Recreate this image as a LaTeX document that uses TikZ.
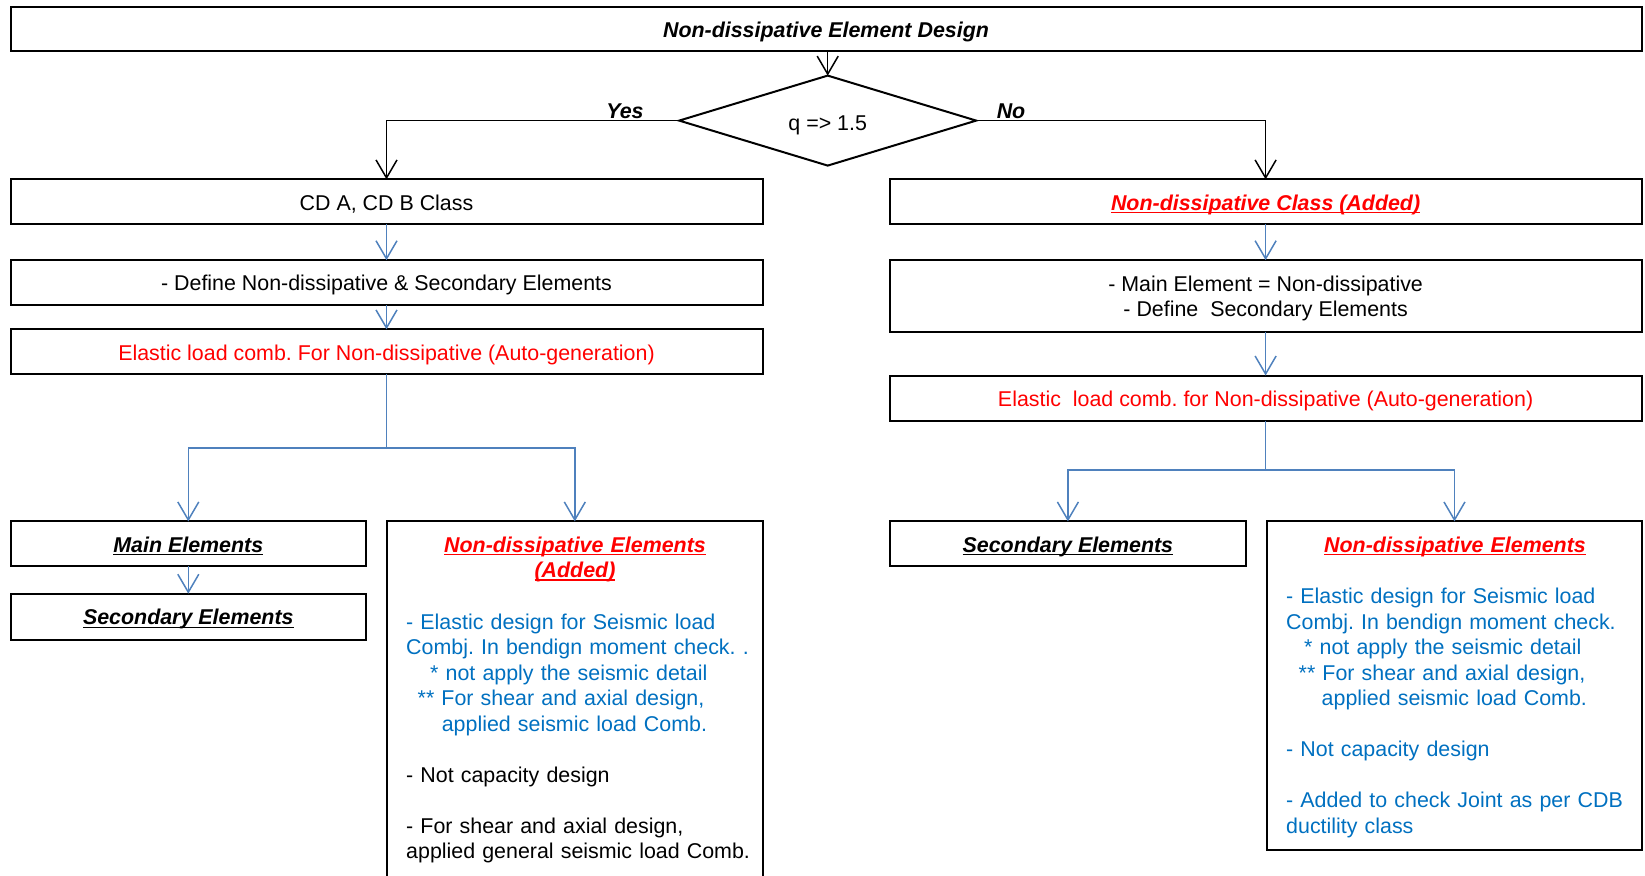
\documentclass[tikz,border=0pt]{standalone}
\usepackage{fontspec}
\setmainfont{Liberation Sans}
\usetikzlibrary{arrows.meta,shapes.geometric}
\definecolor{cred}{RGB}{255,0,0}
\definecolor{ctxtblue}{RGB}{0,112,192}
\definecolor{cline}{RGB}{79,129,189}
\newcommand\myul[1]{\leavevmode\setbox0\hbox{#1}\rlap{\rule[-3pt]{\wd0}{1.4pt}}\box0}
\frenchspacing
\begin{document}
\begin{tikzpicture}[x=1pt,y=-1pt,
  every node/.style={font=\fontsize{21.4}{25.5}\selectfont\frenchspacing},
  box/.style={draw, line width=2pt, rectangle, inner sep=0pt, outer sep=0pt, anchor=north west, align=center},
  one/.style={text height=19.4pt, text depth=3pt},
  bi/.style={font=\fontsize{21.4}{25.5}\selectfont\bfseries\itshape},
  karr/.style={draw=black, line width=1.5pt, -{Straight Barb[length=18pt,width=21pt]}},
  barr/.style={draw=cline, line width=1.5pt, -{Straight Barb[length=18pt,width=21pt]}},
  bline/.style={draw=cline, line width=1.5pt},
  body/.style={anchor=base west, text width=420pt, align=left, inner sep=0pt, text=ctxtblue},
  ttl/.style={bi, anchor=base, text width=360pt, align=center, inner sep=0pt}
  ]
\useasboundingbox (0,0) rectangle (1645,875);

% top
\node[box, one, bi, minimum width=1631pt, minimum height=44pt] (top) at (10.5,7.3) {Non-dissipative Element Design};
\node[diamond, draw, line width=2pt, inner sep=0pt, outer sep=0pt, aspect=3.3, minimum width=297pt, minimum height=90pt, text height=19.4pt, text depth=0pt] (dia) at (827.7,120.6) {q => 1.5};

% left column
\node[box, one, minimum width=752pt, minimum height=45pt] (cdL) at (10.5,179.4) {CD A, CD B Class};
\node[box, one, minimum width=752pt, minimum height=45pt] (defL) at (10.5,260.2) {- Define Non-dissipative \& Secondary Elements};
\node[box, one, minimum width=752pt, minimum height=45pt, text=cred] (elL) at (10.5,329.4) {Elastic load comb. For Non-dissipative (Auto-generation)};
\node[box, one, bi, minimum width=355.6pt, minimum height=45pt] (mainE) at (10.5,521.4) {\myul{Main Elements}};
\node[box, one, bi, minimum width=355.6pt, minimum height=46pt] (secL) at (10.5,593.7) {\myul{Secondary Elements}};
\node[box, minimum width=375.6pt, minimum height=400pt] (ndL) at (387,521.4) {};
\node[ttl, text=cred] (ndLt) at (575,552) {\myul{Non-dissipative Elements}\\\myul{(Added)}};
\node[body] (ndLb) at (406,629) {- Elastic design for Seismic load\\
Combj. In bendign moment check. .\\
\hspace*{24pt}* not apply the seismic detail\\
\hspace*{11.5pt}** For shear and axial design,\\
\hspace*{35.6pt}applied seismic load Comb.\\
\mbox{}\\
\textcolor{black}{- Not capacity design}\\
\mbox{}\\
\textcolor{black}{- For shear and axial design,}\\
\textcolor{black}{applied general seismic load Comb.}};

% right column
\node[box, one, bi, text=cred, minimum width=752pt, minimum height=45pt] (ndC) at (889.6,179.4) {\myul{Non-dissipative Class (Added)}};
\node[box, minimum width=752pt, minimum height=71.3pt] (defR) at (889.6,260.2) {\rule{0pt}{21pt}- Main Element = Non-dissipative\\- Define\ \ Secondary Elements};
\node[box, one, minimum width=752pt, minimum height=45pt, text=cred] (elR) at (889.6,375.5) {Elastic\ \ load comb. for Non-dissipative (Auto-generation)};
\node[box, one, bi, minimum width=356.6pt, minimum height=45pt] (secR) at (889.6,521.4) {\myul{Secondary Elements}};
\node[box, minimum width=374.5pt, minimum height=328.3pt] (ndR) at (1267.2,521.4) {};
\node[ttl, text=cred] (ndRt) at (1455,552) {\myul{Non-dissipative Elements}};
\node[body] (ndRb) at (1286,603.5) {- Elastic design for Seismic load\\
Combj. In bendign moment check.\\
\hspace*{18pt}* not apply the seismic detail\\
\hspace*{12.5pt}** For shear and axial design,\\
\hspace*{35.5pt}applied seismic load Comb.\\
\mbox{}\\
- Not capacity design\\
\mbox{}\\
- Added to check Joint as per CDB\\
ductility class};

% black connectors
\draw[karr] (dia.north |- top.south) -- (dia.north);
\draw[karr] (dia.west) -| (cdL.north);
\draw[karr] (dia.east) -| (ndC.north);
\node[bi, anchor=base] (yes) at (625,118) {Yes};
\node[bi, anchor=base] (no) at (1011,118) {No};

% blue connectors left
\draw[barr] (cdL.south) -- (defL.north);
\draw[barr] (defL.south) -- (elL.north);
\coordinate (brL) at (elL.south |- 0,447.9);
\draw[bline] (elL.south) -- (brL);
\draw[barr] (brL) -| (mainE.north);
\draw[barr] (brL) -| (ndL.north);
\draw[barr] (mainE.south) -- (secL.north);

% blue connectors right
\draw[barr] (ndC.south) -- (defR.north);
\draw[barr] (defR.south) -- (elR.north);
\coordinate (brR) at (elR.south |- 0,470);
\draw[bline] (elR.south) -- (brR);
\draw[barr] (brR) -| (secR.north);
\draw[barr] (brR) -| (ndR.north);
\end{tikzpicture}
\end{document}
